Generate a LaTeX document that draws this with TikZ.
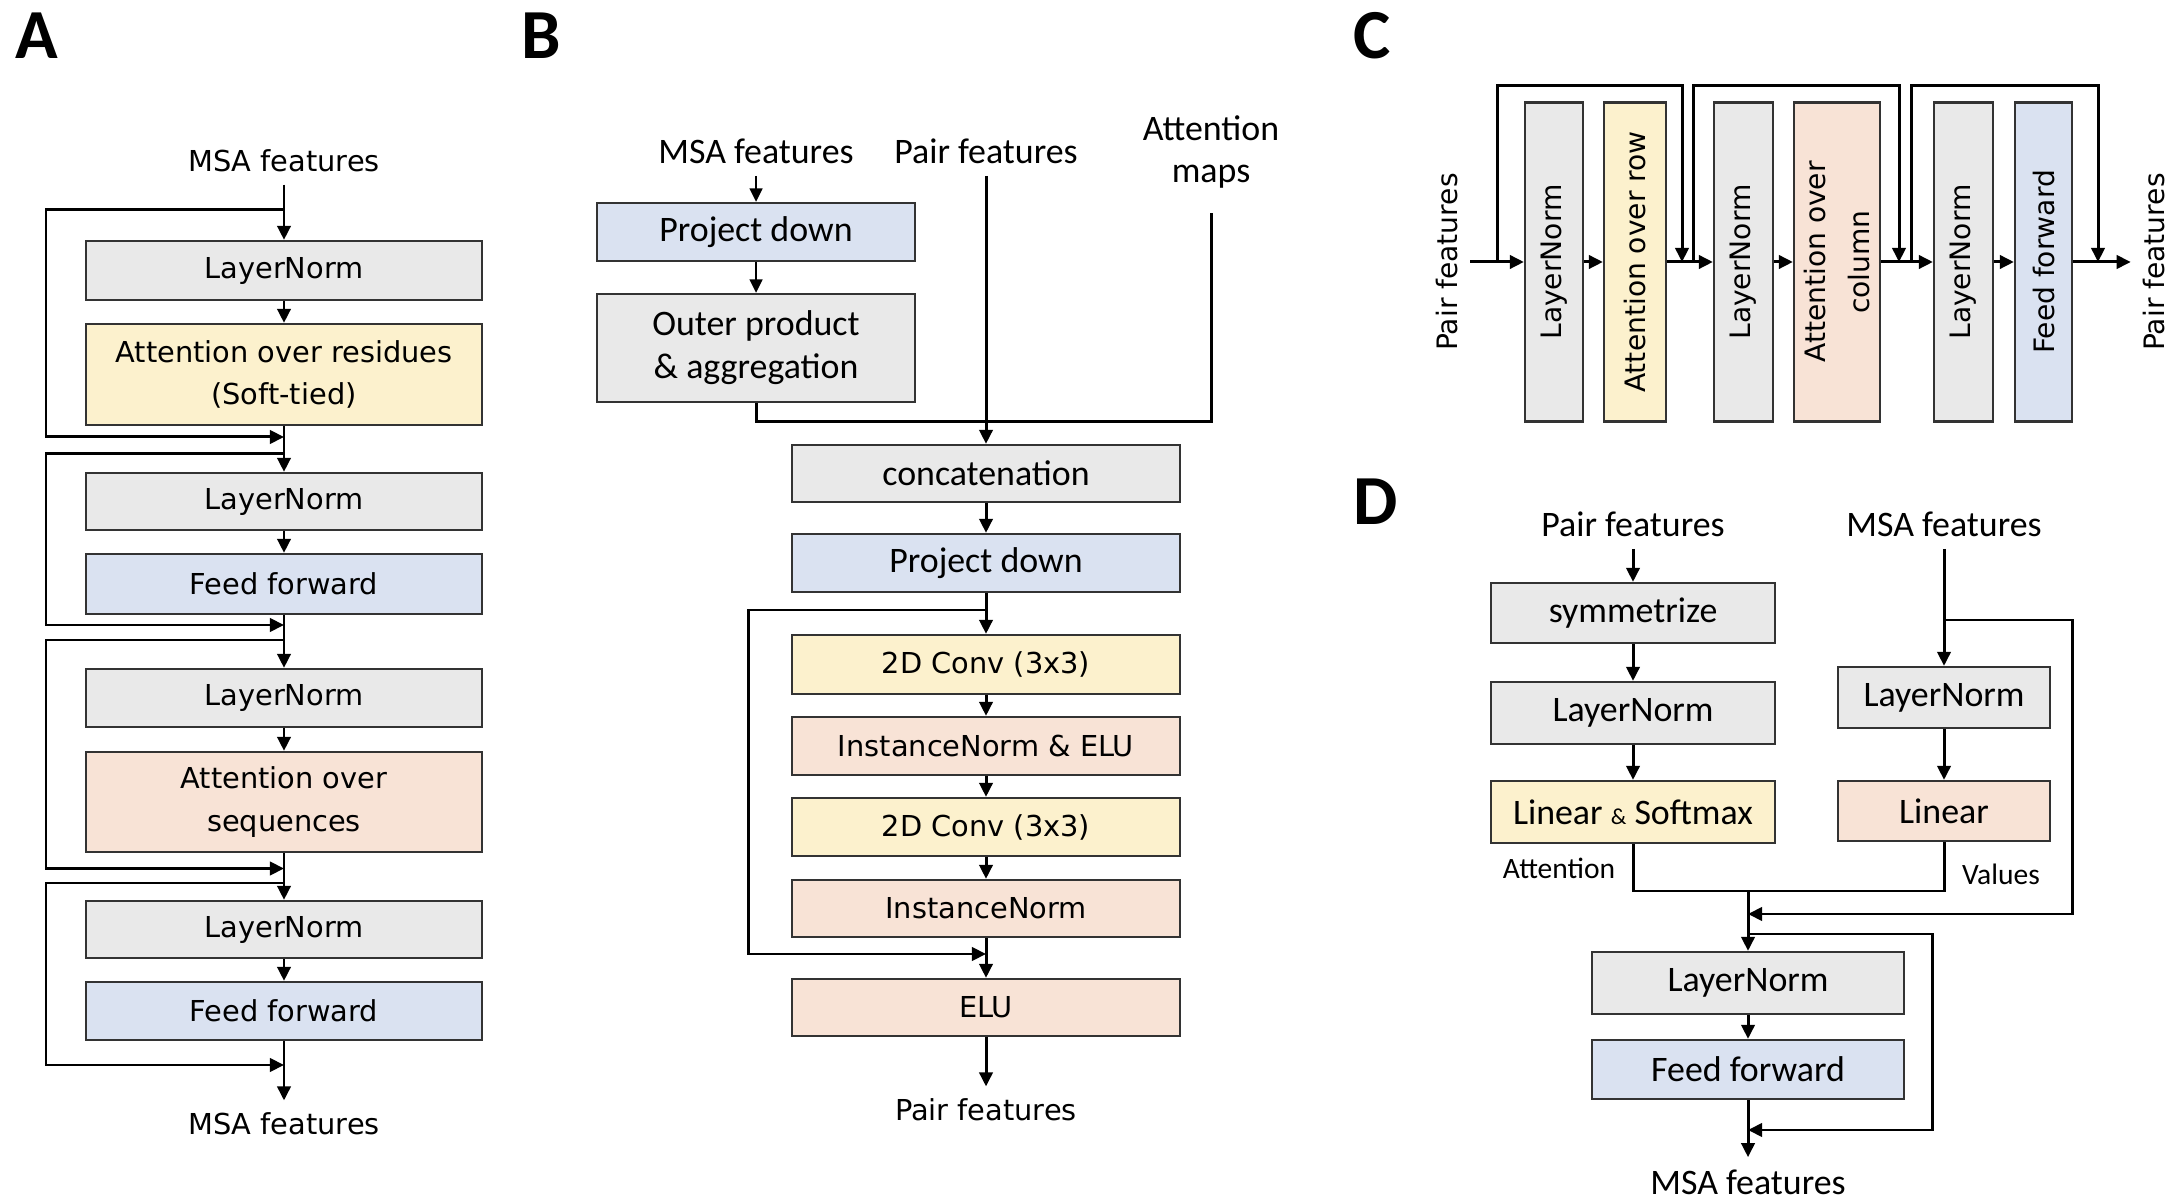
\documentclass[tikz,border=0pt]{standalone}
\usepackage{fontspec}
\usepackage{tikz}
\usepackage{xcolor}
\usetikzlibrary{arrows.meta}
\setmainfont{DejaVu Sans}
\newfontfamily\calfont{Carlito}
\newlength{\pxu}
\setlength{\pxu}{0.01cm}
\definecolor{normfill}{RGB}{233,233,233}
\definecolor{attfill}{RGB}{252,241,205}
\definecolor{fffill}{RGB}{218,226,241}
\definecolor{actfill}{RGB}{248,227,214}
\tikzstyle{blk} = [rectangle, draw=black!80, line width=0.65pt, inner sep=0pt]
\tikzstyle{normbox} = [blk, fill=normfill]
\tikzstyle{attbox} = [blk, fill=attfill]
\tikzstyle{ffbox} = [blk, fill=fffill]
\tikzstyle{actbox} = [blk, fill=actfill]
\tikzstyle{cal} = [font=\calfont\fontsize{10.2}{12.2}\selectfont]
\tikzstyle{calsmall} = [font=\calfont\fontsize{8.4}{10}\selectfont]
\tikzstyle{vert} = [rotate=90, font=\fontsize{8}{12.5}\selectfont]
\tikzstyle{lab} = [font=\calfont\bfseries\fontsize{20}{24}\selectfont]
\tikzstyle{ln} = [line width=0.85pt]
\tikzstyle{arr} = [line width=0.85pt, -{Triangle[length=4pt,width=3.8pt]}]
\tikzstyle{thinarr} = [line width=0.6pt, -{Triangle[length=3.8pt,width=3.6pt]}]
\tikzset{sz/.style 2 args={minimum width=#1\pxu, minimum height=#2\pxu}}

\begin{document}
\begin{tikzpicture}[x=0.01cm, y=-0.01cm]
\tikzset{every node/.style={align=center, font=\fontsize{8.2}{12}\selectfont}}
\useasboundingbox (0,0) rectangle (2167,1198);

\node[lab] (labA) at (37,36) {A};
\node[lab] (labB) at (541,36) {B};
\node[lab] (labC) at (1372,36) {C};
\node[lab] (labD) at (1376,502) {D};

\node (a0) at (284,161) {MSA features};
\node[normbox, sz={396}{59}] (a1) at (284,270.5) {LayerNorm};
\node[attbox, sz={396}{101}] (a2) at (284,374.5) {Attention over residues\\(Soft-tied)};
\node[normbox, sz={396}{57}] (a3) at (284,501.5) {LayerNorm};
\node[ffbox, sz={396}{60}] (a4) at (284,584) {Feed forward};
\node[normbox, sz={396}{58}] (a5) at (284,698) {LayerNorm};
\node[actbox, sz={396}{100}] (a6) at (284,802) {Attention over\\sequences};
\node[normbox, sz={396}{57}] (a7) at (284,929.5) {LayerNorm};
\node[ffbox, sz={396}{58}] (a8) at (284,1011) {Feed forward};
\node (a9) at (284,1124) {MSA features};

\foreach \from/\to in {a0/a1,a1/a2,a2/a3,a3/a4,a4/a5,a5/a6,a6/a7,a7/a8,a8/a9}
{
	\draw[arr] (\from) -- (\to);
}
\foreach \i/\s/\j in {1/210/437,2/454/625,3/640/868.5,4/883/1065}
{
	\coordinate (as\i) at (284,\s);
	\coordinate (aj\i) at (284,\j);
	\draw[arr] (as\i) -- ++(-238,0) |- (aj\i);
}

\node[cal] (b0) at (756,151) {MSA features};
\node[cal] (p0) at (986,151) {Pair features};
\node[cal] (m0) at (1211,152) {Attention\\maps};
\node[ffbox, sz={318}{58}, cal] (b1) at (756,232) {Project down};
\node[normbox, sz={318}{108}, cal] (b2) at (756,348) {Outer product\\\& aggregation};
\node[normbox, sz={388}{57}, cal] (b3) at (986,473.5) {concatenation};
\node[ffbox, sz={388}{58}, cal] (b4) at (986,563) {Project down};
\node[attbox, sz={388}{59}] (b5) at (986,664.5) {2D Conv (3x3)};
\node[actbox, sz={388}{58}] (b6) at (986,746) {InstanceNorm \& ELU};
\node[attbox, sz={388}{58}] (b7) at (986,827) {2D Conv (3x3)};
\node[actbox, sz={388}{57}] (b8) at (986,908.5) {InstanceNorm};
\node[actbox, sz={388}{57}] (b9) at (986,1007.5) {ELU};
\node (b10) at (986,1110) {Pair features};

\draw[thinarr] (b0) -- (b1);
\draw[thinarr] (b1) -- (b2);
\coordinate (bm) at (986,422);
\draw[ln] (b2) |- (bm);
\draw[ln, shorten <=12\pxu] (m0) |- (bm);
\foreach \from/\to in {p0/b3,b3/b4,b4/b5,b5/b6,b6/b7,b7/b8,b8/b9,b9/b10}
{
	\draw[arr] (\from) -- (\to);
}
\coordinate (bs) at (986,610);
\coordinate (bj) at (986,954);
\draw[arr] (bs) -- ++(-238,0) |- (bj);

\node[vert] (c0) at (1447,262) {Pair features};
\node[normbox, vert, sz={319}{58}] (c1) at (1554,262) {LayerNorm};
\node[attbox, vert, sz={319}{62}] (c2) at (1635,262) {Attention over row};
\node[normbox, vert, sz={319}{59}] (c3) at (1743.5,262) {LayerNorm};
\node[actbox, vert, sz={319}{86}] (c4) at (1837,262) {Attention over\\column};
\node[normbox, vert, sz={319}{59}] (c5) at (1963.5,262) {LayerNorm};
\node[ffbox, vert, sz={319}{57}] (c6) at (2043.5,262) {Feed forward};
\node[vert] (c7) at (2154,262) {Pair features};

\foreach \from/\to in {c0/c1,c1/c2,c2/c3,c3/c4,c4/c5,c5/c6,c6/c7}
{
	\draw[arr] (\from) -- (\to);
}
\foreach \i/\s/\j in {1/1497/1682,2/1693/1899,3/1911/2098}
{
	\coordinate (cs\i) at (\s,262);
	\coordinate (cj\i) at (\j,262);
	\draw[arr] (cs\i) -- ++(0,-176) -| (cj\i);
}

\node[cal] (d0) at (1633,524) {Pair features};
\node[cal] (e0) at (1944,524) {MSA features};
\node[normbox, sz={284}{60}, cal] (d1) at (1633,613) {symmetrize};
\node[normbox, sz={284}{62}, cal] (d2) at (1633,713) {LayerNorm};
\node[attbox, sz={284}{62}, cal] (d3) at (1633,812) {Linear {\fontsize{6.5}{8}\selectfont\&} Softmax};
\node[normbox, sz={212}{61}, cal] (e1) at (1944,697.5) {LayerNorm};
\node[actbox, sz={212}{60}, cal] (e2) at (1944,811) {Linear};
\node[normbox, sz={312}{62}, cal] (d4) at (1748,983) {LayerNorm};
\node[ffbox, sz={312}{59}, cal] (d5) at (1748,1069.5) {Feed forward};
\node[cal] (d6) at (1748,1182) {MSA features};
\node[calsmall] (att) at (1559,868) {Attention};
\node[calsmall] (val) at (2001,874) {Values};

\foreach \from/\to in {d0/d1,d1/d2,d2/d3,e0/e1,e1/e2,d4/d5,d5/d6}
{
	\draw[arr] (\from) -- (\to);
}
\coordinate (dm) at (1748,891);
\draw[ln] (d3) |- (dm);
\draw[ln] (e2) |- (dm);
\draw[arr] (dm) -- (d4);
\coordinate (es) at (1944,620);
\coordinate (dj1) at (1748,914);
\draw[arr] (es) -- ++(128,0) |- (dj1);
\coordinate (ds) at (1748,934);
\coordinate (dj2) at (1748,1130);
\draw[arr] (ds) -- ++(184,0) |- (dj2);
\end{tikzpicture}
\end{document}
